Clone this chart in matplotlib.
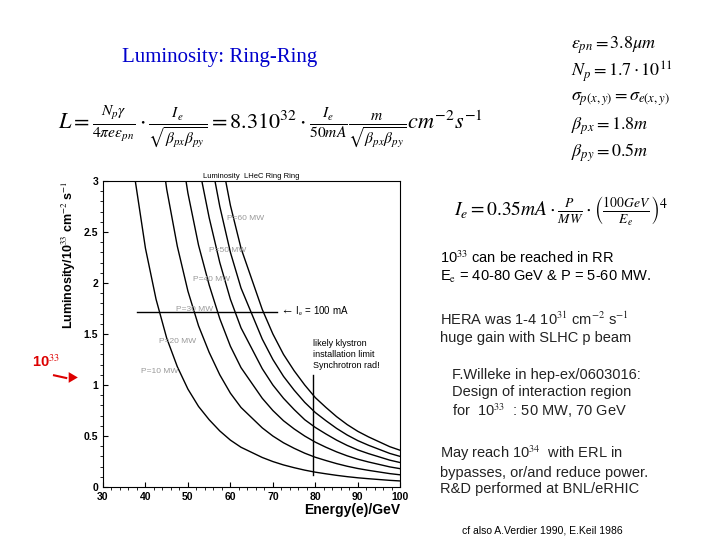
import numpy as np
import matplotlib.pyplot as plt

plt.rcParams['font.family'] = ['Liberation Sans', 'DejaVu Sans']
plt.rcParams['mathtext.fontset'] = 'stix'

# energies (GeV) and luminosity (10^33 cm^-2 s^-1)
energy = [35, 37.5, 40, 42.5, 45, 47.5, 50, 52.5, 55, 57.5, 60, 62.5, 65, 67.5,
          70, 72.5, 75, 77.5, 80, 82.5, 85, 87.5, 90, 92.5, 95, 97.5, 100]
lumi_10 = [4.0, 3.03, 2.34, 1.84, 1.46, 1.18, 0.96, 0.79, 0.66, 0.55, 0.46, 0.39, 0.34, 0.29,
           0.25, 0.217, 0.19, 0.166, 0.146, 0.13, 0.115, 0.102, 0.091, 0.082, 0.074, 0.066, 0.06]
lumi_20 = [8.0, 6.06, 4.68, 3.68, 2.92, 2.36, 1.92, 1.58, 1.32, 1.10, 0.92, 0.78, 0.68, 0.58,
           0.50, 0.434, 0.38, 0.332, 0.292, 0.26, 0.23, 0.204, 0.182, 0.164, 0.148, 0.132, 0.12]
lumi_30 = [12.0, 9.1, 7.0, 5.52, 4.38, 3.54, 2.88, 2.37, 1.98, 1.65, 1.38, 1.17, 1.02, 0.87,
           0.75, 0.65, 0.57, 0.50, 0.44, 0.39, 0.345, 0.306, 0.273, 0.246, 0.222, 0.198, 0.18]
lumi_40 = [16.0, 12.1, 9.4, 7.36, 5.84, 4.72, 3.84, 3.16, 2.64, 2.20, 1.84, 1.56, 1.36, 1.16,
           1.00, 0.87, 0.76, 0.66, 0.584, 0.52, 0.46, 0.408, 0.364, 0.328, 0.296, 0.264, 0.24]
lumi_50 = [20.0, 15.2, 11.7, 9.2, 7.3, 5.9, 4.8, 3.95, 3.30, 2.75, 2.30, 1.95, 1.70, 1.45,
           1.25, 1.085, 0.95, 0.83, 0.73, 0.65, 0.575, 0.51, 0.455, 0.41, 0.37, 0.33, 0.30]
lumi_60 = [24.0, 18.2, 14.0, 11.0, 8.76, 7.08, 5.76, 4.74, 3.96, 3.30, 2.76, 2.34, 2.04, 1.74,
           1.50, 1.30, 1.14, 1.00, 0.876, 0.78, 0.69, 0.612, 0.546, 0.492, 0.444, 0.396, 0.36]
curves = [lumi_10, lumi_20, lumi_30, lumi_40, lumi_50, lumi_60]
power_labels = ["P=10 MW", "P=20 MW", "P=30 MW", "P=40 MW", "P=50 MW", "P=60 MW"]
label_pos = [(39, 1.13), (43.2, 1.43), (47.2, 1.74), (51.2, 2.03), (55, 2.32), (59.2, 2.63)]

fig = plt.figure(figsize=(7.2, 5.4), dpi=100)
ax = fig.add_axes([0.143, 0.098, 0.413, 0.567])
for lum in curves:
    ax.plot(energy, lum, color='black', lw=1)
for lab, (x, y) in zip(power_labels, label_pos):
    ax.text(x, y, lab, fontsize=6, color='#999999', va='center')

ax.plot([38, 71], [1.72, 1.72], color='black', lw=1)
ax.text(72, 1.72, r"$\leftarrow$ I$_{\rm e}$ = 100 mA", fontsize=7, va='center')
ax.plot([79.5, 79.5], [0.12, 1.1], color='black', lw=1)
ax.text(79.5, 1.15, "likely klystron\ninstallation limit\nSynchrotron rad!", fontsize=6.5,
        va='bottom', linespacing=1.3)

ax.set_xlim(30, 100)
ax.set_ylim(0, 3)
ax.set_xticks(range(30, 101, 10))
ax.set_yticks([0, 0.5, 1, 1.5, 2, 2.5, 3])
ax.set_yticklabels(["0", "0.5", "1", "1.5", "2", "2.5", "3"])
ax.minorticks_on()
ax.tick_params(labelsize=7.5, direction='in')
for t in ax.get_xticklabels() + ax.get_yticklabels():
    t.set_fontweight('bold')
ax.set_title("Luminosity  LHeC Ring Ring", fontsize=5.5, pad=2)
ax.set_xlabel("Energy(e)/GeV", fontsize=10, fontweight='bold', loc='right', labelpad=1)
ax.set_ylabel(r"Luminosity/10$^{33}$ cm$^{-2}$ s$^{-1}$", fontsize=9, fontweight='bold',
              loc='top')

fig.text(0.17, 0.893, "Luminosity: Ring-Ring", fontsize=15, color='#0000cc',
         family='Liberation Serif', va='center')
fig.text(0.08, 0.765,
         r"$L=\frac{N_p\gamma}{4\pi e\varepsilon_{pn}}\cdot\frac{I_e}{\sqrt{\beta_{px}\beta_{py}}}"
         r"=8.3 10^{32}\cdot\frac{I_e}{50mA}\frac{m}{\sqrt{\beta_{px}\beta_{py}}}cm^{-2}s^{-1}$",
         fontsize=16, va='center')
right_eqs = [r"$\varepsilon_{pn}=3.8\mu m$", r"$N_p=1.7\cdot10^{11}$",
             r"$\sigma_{p(x,y)}=\sigma_{e(x,y)}$", r"$\beta_{px}=1.8m$", r"$\beta_{py}=0.5m$"]
for i, s in enumerate(right_eqs):
    fig.text(0.793, 0.917 - i * 0.05, s, fontsize=13, va='center')
fig.text(0.63, 0.61,
         r"$I_e=0.35mA\cdot\frac{P}{MW}\cdot\left(\frac{100GeV}{E_e}\right)^4$",
         fontsize=14, va='center')

fig.text(0.611, 0.505, "10$^{33}$ can be reached in RR\nE$_{\\rm e}$ = 40-80 GeV & P = 5-60 MW.",
         fontsize=10.5, va='center', linespacing=1.2)
fig.text(0.611, 0.393, "HERA was 1-4 10$^{31}$ cm$^{-2}$ s$^{-1}$\nhuge gain with SLHC p beam",
         fontsize=10.5, va='center', color='#222222', linespacing=1.2)
fig.text(0.628, 0.27, "F.Willeke in hep-ex/0603016:\nDesign of interaction region\nfor  10$^{33}$  : 50 MW, 70 GeV",
         fontsize=10.5, va='center', color='#222222', linespacing=1.2)
fig.text(0.611, 0.13, "May reach 10$^{34}$  with ERL in\nbypasses, or/and reduce power.\nR&D performed at BNL/eRHIC",
         fontsize=10.5, va='center', color='#222222', linespacing=1.2)
fig.text(0.642, 0.018, "cf also A.Verdier 1990, E.Keil 1986", fontsize=7.5, va='center')

fig.text(0.045, 0.33, "10$^{33}$", fontsize=10.5, color='#dd0000', fontweight='bold', va='center')
fig.add_artist(plt.Line2D([0.075, 0.092], [0.305, 0.3], color='#dd0000', lw=1.5))
fig.text(0.092, 0.3, r"$\blacktriangleright$", fontsize=7, color='#dd0000', va='center')

fig.savefig("out.png", dpi=100)
